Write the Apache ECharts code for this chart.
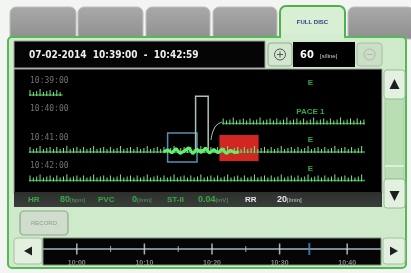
<!DOCTYPE html>
<html><head><meta charset="utf-8">
<script src="https://cdn.jsdelivr.net/npm/echarts@6/dist/echarts.min.js"></script>
<style>html,body{margin:0;padding:0;background:#f3f5f3}#c{width:411px;height:273px}</style>
</head><body><div id="c"></div><script>
// ---- data ----
const headerDate = '07-02-2014';
const headerFrom = '10:39:00';
const headerTo = '10:42:59';
const secPerLine = '60';
const tabNames = ['', '', '', '', 'FULL DISC', ''];
const laneTimes = ['10:39:00', '10:40:00', '10:41:00', '10:42:00'];
const traceLanes = [0, 1, 2, 3];
const traceStart = [0, 138, 0, 0];
const traceEnd = [24, 240, 240, 240];
const burstTimes = [96, 99, 102, 105, 108, 111, 114, 117, 120, 123, 126, 129, 132, 135, 138, 141, 144, 147, 150];
const burstOffsets = [0, -0.08, 0.03, -0.12, 0.05, -0.04, -0.15, 0.06, -0.1, 0.02, -0.14, 0.04, -0.09, 0.03, -0.11, 0.05, -0.06, 0.02, 0];
const eventTimes = [201, 201, 201, 201];
const eventLanes = [0, 1, 2, 3];
const eventTexts = ['E', 'PACE 1', 'E', 'E'];
const alarmSpan = [136, 164], alarmLanes = [1.4, 2.32];
const selSpan = [99, 120], selLanes = [1.33, 2.35];
const cursorSpan = [119, 128], cursorLanes = [0.04, 1.93];
const linkTimes = [130, 132.9, 138];
const linkLanes = [1.58, 1.12, 0.95];
const vitalNames = ['HR', 'PVC', 'ST-II', 'RR'];
const vitalValues = ['80', '0', '0.04', '20'];
const vitalUnits = ['[bpm]', '[/min]', '[mV]', '[/min]'];
const tlValues = [0, 10, 20, 30, 40];
const tlLabels = ['10:00', '10:10', '10:20', '10:30', '10:40'];
const tlMinor = [5, 15, 25];
const tlCurrent = 34.4;

// ---- chrome ----
const F = 'Liberation Sans, Arial, sans-serif';
const g = [];
const tabX = [[10, 76], [78, 143], [146, 210], [213, 277], [280, 345], [348, 414]];
tabX.forEach((t, i) => {
  const act = i === 4;
  g.push({type: 'rect', shape: {x: t[0], y: act ? 6 : 7, width: t[1] - t[0], height: act ? 36 : 32, r: [6, 6, 0, 0]},
    style: act ? {fill: '#d8efd4', stroke: '#4db14d', lineWidth: 2}
               : {fill: new echarts.graphic.LinearGradient(0, 0, 0, 1, [{offset: 0, color: '#a9a9a9'}, {offset: 1, color: '#8f8f8f'}]), stroke: '#bdbdbd', lineWidth: 1}, z: 0});
  if (tabNames[i]) g.push({type: 'text', x: (t[0] + t[1]) / 2, y: 22, style: {text: tabNames[i], fill: '#2e3d86', fontSize: 6, fontWeight: 'bold', fontFamily: F, align: 'center', verticalAlign: 'middle'}, z: 2});
});
g.push({type: 'rect', shape: {x: 8, y: 37, width: 398, height: 231, r: 4}, style: {fill: '#cfe9cb', stroke: '#55b955', lineWidth: 2}, z: 1});
g.push({type: 'rect', shape: {x: 281, y: 34, width: 63, height: 6}, style: {fill: '#d4ecd0'}, z: 1});
// header
g.push({type: 'rect', shape: {x: 14, y: 41, width: 251, height: 27}, style: {fill: '#050505', stroke: '#a0a0a0', lineWidth: 1}, z: 2});
g.push({type: 'text', x: 29, y: 55, style: {text: headerDate + '  ' + headerFrom + '  -  ' + headerTo, fill: '#eeeeee', fontSize: 10, fontWeight: 'bold', fontFamily: 'DejaVu Sans Condensed, Liberation Sans Narrow, sans-serif', align: 'left', verticalAlign: 'middle'}, z: 3});
// zoom in
g.push({type: 'rect', shape: {x: 268, y: 43, width: 24, height: 23, r: 3}, style: {fill: '#d3e6cf', stroke: '#8fae8c', lineWidth: 1}, z: 2});
g.push({type: 'circle', shape: {cx: 280, cy: 54.5, r: 5.5}, style: {fill: 'none', stroke: '#555', lineWidth: 1}, z: 3});
g.push({type: 'line', shape: {x1: 277, y1: 54.5, x2: 283, y2: 54.5}, style: {stroke: '#555', lineWidth: 1}, z: 3});
g.push({type: 'line', shape: {x1: 280, y1: 51.5, x2: 280, y2: 57.5}, style: {stroke: '#555', lineWidth: 1}, z: 3});
// sec per line
g.push({type: 'rect', shape: {x: 293, y: 42, width: 62, height: 25}, style: {fill: '#000'}, z: 2});
g.push({type: 'text', x: 300, y: 55, style: {text: secPerLine, fill: '#fff', fontSize: 11, fontWeight: 'bold', fontFamily: 'DejaVu Sans Condensed, sans-serif', align: 'left', verticalAlign: 'middle'}, z: 3});
g.push({type: 'text', x: 320, y: 56, style: {text: '[s/line]', fill: '#cfcfcf', fontSize: 6, fontFamily: F, align: 'left', verticalAlign: 'middle'}, z: 3});
// zoom out (disabled)
g.push({type: 'rect', shape: {x: 357, y: 43, width: 25, height: 23, r: 3}, style: {fill: '#cadfc6', stroke: '#a6c0a3', lineWidth: 1}, z: 2});
g.push({type: 'circle', shape: {cx: 369.5, cy: 54.5, r: 5.5}, style: {fill: 'none', stroke: '#a9b8a8', lineWidth: 1}, z: 3});
g.push({type: 'line', shape: {x1: 366.5, y1: 54.5, x2: 372.5, y2: 54.5}, style: {stroke: '#a9b8a8', lineWidth: 1}, z: 3});
// waveform area
g.push({type: 'rect', shape: {x: 14, y: 69, width: 368, height: 124}, style: {fill: '#000', stroke: '#9aa59a', lineWidth: 1}, z: 2});
g.push({type: 'rect', shape: {x: 14, y: 192, width: 368, height: 15}, style: {fill: new echarts.graphic.LinearGradient(0, 0, 0, 1, [{offset: 0, color: '#2c302d'}, {offset: 1, color: '#3a3e3b'}])}, z: 2});
const vx = [[28, 60], [98, 132], [167, 198], [245, 277]];
vitalNames.forEach((n, i) => {
  const white = n === 'RR';
  const col = white ? '#e6e6e6' : '#3aa846';
  g.push({type: 'text', x: vx[i][0], y: 200, style: {text: n, fill: col, fontSize: 8, fontWeight: 'bold', fontFamily: F, align: 'left', verticalAlign: 'middle'}, z: 3});
  g.push({type: 'text', x: vx[i][1], y: 200, style: {text: '{v|' + vitalValues[i] + '}{u|' + vitalUnits[i] + '}', fill: col, fontFamily: F, align: 'left', verticalAlign: 'middle',
    rich: {v: {fontSize: 9, fontWeight: 'bold', fill: col}, u: {fontSize: 6, fill: white ? '#cfcfcf' : '#5f9a64'}}}, z: 3});
});
// scroll bar
g.push({type: 'rect', shape: {x: 385, y: 99, width: 19, height: 80}, style: {fill: '#b9deb4', stroke: '#a8cca4', lineWidth: 1}, z: 2});
g.push({type: 'line', shape: {x1: 385, y1: 166, x2: 404, y2: 166}, style: {stroke: '#e8f4e6', lineWidth: 1.5}, z: 3});
g.push({type: 'rect', shape: {x: 384, y: 70, width: 21, height: 29, r: 3}, style: {fill: '#e3f1e0', stroke: '#98bd94', lineWidth: 1}, z: 3});
g.push({type: 'polygon', shape: {points: [[394.5, 79], [389.5, 89], [399.5, 89]]}, style: {fill: '#1e1e1e'}, z: 4});
g.push({type: 'rect', shape: {x: 384, y: 179, width: 21, height: 29, r: 3}, style: {fill: '#e3f1e0', stroke: '#98bd94', lineWidth: 1}, z: 3});
g.push({type: 'polygon', shape: {points: [[389.5, 191], [399.5, 191], [394.5, 201]]}, style: {fill: '#1e1e1e'}, z: 4});
// record button
g.push({type: 'rect', shape: {x: 20, y: 211, width: 48, height: 24, r: 4}, style: {fill: '#d0ddcc', stroke: '#8ea88b', lineWidth: 1.2}, z: 2});
g.push({type: 'text', x: 44, y: 223, style: {text: 'RECORD', fill: '#8d9b8b', fontSize: 6, fontFamily: F, align: 'center', verticalAlign: 'middle'}, z: 3});
// timeline
g.push({type: 'rect', shape: {x: 14, y: 238, width: 28, height: 26, r: 3}, style: {fill: '#e3f0e0', stroke: '#a5c1a1', lineWidth: 1}, z: 2});
g.push({type: 'polygon', shape: {points: [[24, 251], [32, 246.5], [32, 255.5]]}, style: {fill: '#1e1e1e'}, z: 3});
g.push({type: 'rect', shape: {x: 43, y: 238, width: 338, height: 27}, style: {fill: '#050505', stroke: '#7f8c7f', lineWidth: 1}, z: 2});
g.push({type: 'rect', shape: {x: 383, y: 238, width: 22, height: 26, r: 3}, style: {fill: '#e3f0e0', stroke: '#a5c1a1', lineWidth: 1}, z: 2});
g.push({type: 'polygon', shape: {points: [[398, 251], [390, 246.5], [390, 255.5]]}, style: {fill: '#1e1e1e'}, z: 3});

const chart = echarts.init(document.getElementById('c'), null, {renderer: 'canvas'});
const tlColors = ['#8a9c84', '#5f8fb4', '#8a9c84', '#5f8fb4', '#8a9c84'];
chart.setOption({
  animation: false,
  backgroundColor: '#f3f5f3',
  graphic: {elements: g},
  grid: [
    {left: 29, right: 46, top: 66.5, height: 142.5},
    {left: 43, right: 30, top: 244, height: 10}
  ],
  xAxis: [
    {gridIndex: 0, type: 'value', min: 0, max: 240, show: false},
    {gridIndex: 1, type: 'value', min: -5, max: 45, splitNumber: 5, z: 10,
      axisLine: {onZero: true, lineStyle: {color: '#a3b5c4', width: 1.5}},
      axisTick: {show: false}, splitLine: {show: false},
      axisLabel: {showMinLabel: false, showMaxLabel: false, fontSize: 7, fontWeight: 'bold', margin: 6, fontFamily: F,
        formatter: v => { const k = tlValues.indexOf(v); return k < 0 ? '' : tlLabels[k]; },
        color: v => { const k = tlValues.indexOf(v); return k < 0 ? '#888' : tlColors[k]; }}}
  ],
  yAxis: [
    {gridIndex: 0, type: 'value', min: -1, max: 4, inverse: true, show: false},
    {gridIndex: 1, type: 'value', min: -1, max: 1, show: false}
  ],
  series: [
    {type: 'line', xAxisIndex: 0, yAxisIndex: 0, z: 10, smooth: true, showSymbol: false, silent: true,
      data: linkTimes.map((t, i) => [t, linkLanes[i]]),
      lineStyle: {color: '#b9c9c0', width: 1},
      markArea: {z: 11, silent: true, label: {show: false}, data: [
        [{xAxis: alarmSpan[0], yAxis: alarmLanes[0], itemStyle: {color: 'rgba(228,42,36,0.92)'}}, {xAxis: alarmSpan[1], yAxis: alarmLanes[1]}],
        [{xAxis: selSpan[0], yAxis: selLanes[0], itemStyle: {color: 'rgba(0,0,0,0)', borderColor: '#5b8db2', borderWidth: 1.5}}, {xAxis: selSpan[1], yAxis: selLanes[1]}],
        [{xAxis: cursorSpan[0], yAxis: cursorLanes[0], itemStyle: {color: 'rgba(0,0,0,0)', borderColor: '#a9c3b2', borderWidth: 1.5}}, {xAxis: cursorSpan[1], yAxis: cursorLanes[1]}]
      ]}},
    {type: 'custom', xAxisIndex: 0, yAxisIndex: 0, z: 12, silent: true,
      data: traceLanes.map((l, i) => [l, traceStart[i], traceEnd[i]]),
      encode: {x: [1, 2], y: 0},
      renderItem: (params, api) => {
        const lane = api.value(0), s = api.value(1), e = api.value(2);
        const p0 = api.coord([s, lane]), p1 = api.coord([e, lane]);
        const ch = [{type: 'line', shape: {x1: p0[0], y1: p0[1], x2: p1[0], y2: p1[1]}, style: {stroke: '#2aa53f', lineWidth: 1.5}}];
        const pat = [5, 3, 4, 6, 3, 4, 5, 3];
        let k = 0;
        for (let x = p0[0] + 1; x < p1[0]; x += 3.35, k++) {
          const h = pat[k % pat.length];
          ch.push({type: 'line', shape: {x1: x, y1: p0[1] + 1, x2: x, y2: p0[1] - h}, style: {stroke: '#86e08f', lineWidth: 1}});
        }
        return {type: 'group', children: ch};
      }},
    {type: 'line', xAxisIndex: 0, yAxisIndex: 0, z: 13, showSymbol: false, silent: true,
      data: burstTimes.map((t, i) => [t, 2 + burstOffsets[i]]),
      lineStyle: {color: '#5ff06c', width: 3}},
    {type: 'scatter', xAxisIndex: 0, yAxisIndex: 0, z: 14, symbolSize: 0, silent: true,
      data: eventTimes.map((t, i) => [t, eventLanes[i]]),
      label: {show: true, position: 'top', distance: 8, formatter: p => eventTexts[p.dataIndex], color: '#3fcf5a', fontSize: 8, fontWeight: 'bold', fontFamily: F}},
    {type: 'scatter', xAxisIndex: 0, yAxisIndex: 0, z: 14, symbolSize: 0, silent: true,
      data: laneTimes.map((t, i) => [0, i]),
      label: {show: true, position: 'right', distance: 1, offset: [0, -14.5], formatter: p => laneTimes[p.dataIndex], color: '#8e8e8e', fontSize: 8, fontFamily: 'DejaVu Sans Mono, monospace'}},
    {type: 'scatter', xAxisIndex: 1, yAxisIndex: 1, z: 14, symbol: 'rect', symbolSize: [1.5, 11], silent: true,
      itemStyle: {color: '#d4dadf'}, data: tlValues.map(v => [v, 0])},
    {type: 'scatter', xAxisIndex: 1, yAxisIndex: 1, z: 14, symbol: 'rect', symbolSize: [1, 6], silent: true,
      itemStyle: {color: '#c0c8cf'}, data: tlMinor.map(v => [v, 0])},
    {type: 'scatter', xAxisIndex: 1, yAxisIndex: 1, z: 15, symbol: 'rect', symbolSize: [2, 12], silent: true,
      itemStyle: {color: '#3d8fd0'}, data: [[tlCurrent, 0]]}
  ]
});
</script></body></html>
